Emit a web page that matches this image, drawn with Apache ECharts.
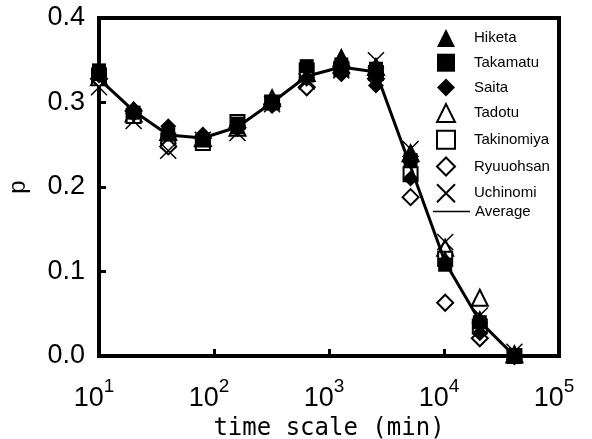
<!DOCTYPE html>
<html>
<head>
<meta charset="utf-8">
<script src="https://cdn.jsdelivr.net/npm/echarts@6/dist/echarts.min.js"></script>
<style>html,body{margin:0;padding:0;background:#fff}#c{width:592px;height:439px}</style>
</head>
<body>
<div id="c"></div>
<script>
var times = [10, 20, 40, 80, 160, 320, 640, 1280, 2560, 5120, 10240, 20480, 40960];
var hiketa     = [0.335, 0.293, 0.268, 0.262, 0.272, 0.303, 0.333, 0.355, 0.335, 0.238, 0.115, 0.045, 0.000];
var takamatu   = [0.338, 0.288, 0.262, 0.255, 0.275, 0.300, 0.343, 0.345, 0.340, 0.232, 0.108, 0.040, 0.000];
var saita      = [0.332, 0.292, 0.272, 0.262, 0.272, 0.296, 0.328, 0.335, 0.320, 0.210, 0.112, 0.027, 0.000];
var tadotu     = [0.330, 0.287, 0.265, 0.258, 0.270, 0.305, 0.335, 0.352, 0.342, 0.240, 0.128, 0.069, 0.002];
var takinomiya = [0.332, 0.284, 0.255, 0.252, 0.277, 0.300, 0.338, 0.340, 0.335, 0.215, 0.115, 0.035, 0.000];
var ryuuohsan  = [0.328, 0.290, 0.248, 0.258, 0.270, 0.298, 0.318, 0.335, 0.328, 0.188, 0.063, 0.021, 0.000];
var uchinomi   = [0.318, 0.278, 0.243, 0.256, 0.264, 0.298, 0.325, 0.338, 0.350, 0.245, 0.135, 0.048, 0.005];
var average    = [0.328, 0.290, 0.2615, 0.258, 0.271, 0.300, 0.331, 0.342, 0.336, 0.224, 0.111, 0.041, 0.000];
var yTicks = [0.0, 0.1, 0.2, 0.3, 0.4];

function pts(v) { return times.map(function (t, i) { return [t, v[i]]; }); }
var X_PATH = 'path://M0,0L20,20M20,0L0,20';
var filled = { color: '#000', opacity: 1 };
var hollow = { color: '#fff', borderColor: '#000', borderWidth: 2, opacity: 1 };
var emph = { disabled: true };

var chart = echarts.init(document.getElementById('c'), null, { renderer: 'canvas' });
chart.setOption({
  animation: false,
  backgroundColor: '#fff',
  grid: { left: 99, right: 33, top: 18, bottom: 83, show: true, borderColor: '#000', borderWidth: 4, containLabel: false, outerBoundsMode: 'none' },
  xAxis: {
    type: 'log', logBase: 10, min: 10, max: 100000,
    name: 'time scale (min)', nameLocation: 'middle', nameGap: 57,
    nameTextStyle: { fontFamily: 'DejaVu Sans Mono', fontSize: 24, color: '#000' },
    axisLine: { lineStyle: { color: '#000', width: 4 } },
    axisTick: { inside: true, length: 7, lineStyle: { color: '#000', width: 3 } },
    minorTick: { show: false },
    splitLine: { show: false },
    axisLabel: {
      margin: 29, color: '#000',
      formatter: function (v) { return '{b|10}{s|' + Math.round(Math.log10(v)) + '}'; },
      rich: {
        b: { fontFamily: 'Liberation Sans', fontSize: 27, lineHeight: 27, verticalAlign: 'bottom', color: '#000' },
        s: { fontFamily: 'Liberation Sans', fontSize: 19, lineHeight: 19, verticalAlign: 'bottom', padding: [0, 10, 16, 0], color: '#000' }
      }
    }
  },
  yAxis: {
    type: 'value', min: 0, max: 0.4, interval: 0.1,
    name: 'p', nameLocation: 'middle', nameGap: 69, nameRotate: 90,
    nameTextStyle: { fontFamily: 'Liberation Sans', fontSize: 24, color: '#000' },
    axisLine: { show: true, lineStyle: { color: '#000', width: 4 } },
    axisTick: { show: true, inside: true, length: 7, lineStyle: { color: '#000', width: 3 } },
    splitLine: { show: false },
    axisLabel: {
      margin: 14, color: '#000', fontFamily: 'Liberation Sans', fontSize: 27,
      formatter: function (v) {
        for (var i = 0; i < yTicks.length; i++) { if (Math.abs(yTicks[i] - v) < 1e-9) return yTicks[i].toFixed(1); }
        return '';
      }
    }
  },
  legend: [
    {
      orient: 'vertical', left: 431, top: 24, itemWidth: 18, itemHeight: 18, itemGap: 6.7,
      symbolKeepAspect: true,
      textStyle: { fontFamily: 'Liberation Sans', fontSize: 15, color: '#000', padding: [0, 0, 0, 14] },
      data: ['Hiketa', 'Takamatu', 'Saita', 'Tadotu', 'Takinomiya', 'Ryuuohsan', 'Uchinomi']
    },
    {
      orient: 'vertical', left: 428, top: 199, itemWidth: 37, itemHeight: 1.5,
      icon: 'rect',
      itemStyle: { color: '#000' },
      textStyle: { fontFamily: 'Liberation Sans', fontSize: 15, color: '#000' },
      data: ['Average']
    }
  ],
  series: [
    { name: 'Tadotu', type: 'scatter', data: pts(tadotu), symbol: 'triangle', symbolSize: 16, itemStyle: hollow, emphasis: emph, z: 1 },
    { name: 'Takinomiya', type: 'scatter', data: pts(takinomiya), symbol: 'rect', symbolSize: 14, itemStyle: hollow, emphasis: emph, z: 1 },
    { name: 'Ryuuohsan', type: 'scatter', data: pts(ryuuohsan), symbol: 'diamond', symbolSize: 16, itemStyle: hollow, emphasis: emph, z: 1 },
    { name: 'Average', type: 'line', data: pts(average), symbol: 'none', lineStyle: { color: '#000', width: 3 }, itemStyle: { color: '#000' }, emphasis: emph, z: 2 },
    { name: 'Hiketa', type: 'scatter', data: pts(hiketa), symbol: 'triangle', symbolSize: 16, itemStyle: filled, emphasis: emph, z: 3 },
    { name: 'Takamatu', type: 'scatter', data: pts(takamatu), symbol: 'rect', symbolSize: 14, itemStyle: filled, emphasis: emph, z: 3 },
    { name: 'Saita', type: 'scatter', data: pts(saita), symbol: 'diamond', symbolSize: 16, itemStyle: filled, emphasis: emph, z: 3 },
    { name: 'Uchinomi', type: 'scatter', data: pts(uchinomi), symbol: X_PATH, symbolSize: 16, itemStyle: { color: '#000', borderColor: '#000', borderWidth: 1.5, opacity: 1 }, emphasis: emph, z: 4 }
  ]
});
</script>
</body>
</html>
